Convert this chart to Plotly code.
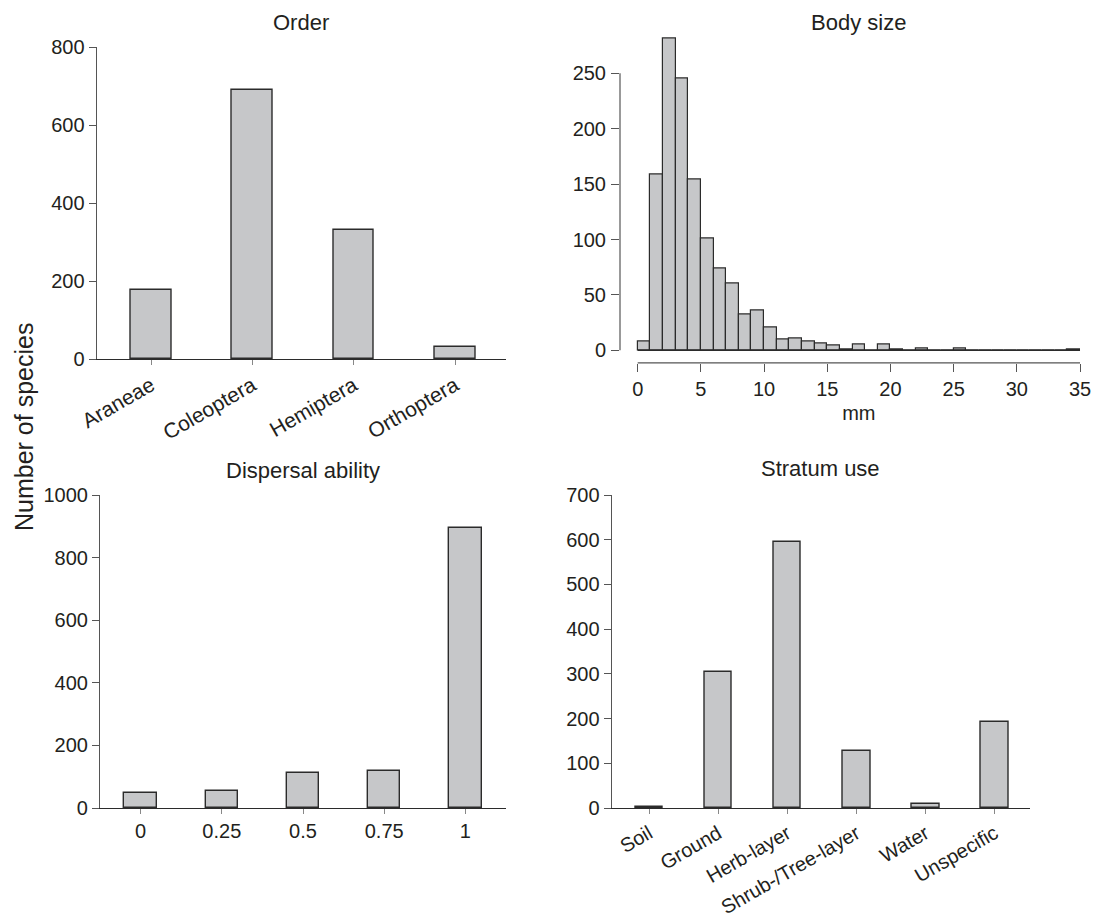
import plotly.graph_objects as go

# ---------------- data ----------------
order_cats = ["Araneae", "Coleoptera", "Hemiptera", "Orthoptera"]
order_vals = [177, 690, 331, 32]

body_bin_edges = list(range(0, 36))  # 1 mm bins, 0..35
body_counts = [8, 159, 281, 245, 154, 101, 74, 60, 32, 36,
               21, 10, 11, 8, 6, 4, 1, 5, 0, 5,
               1, 0, 2, 0, 0, 2, 0, 0, 0, 0,
               0, 0, 0, 0, 1]

disp_cats = ["0", "0.25", "0.5", "0.75", "1"]
disp_vals = [47, 55, 113, 119, 896]

strat_cats = ["Soil", "Ground", "Herb-layer", "Shrub-/Tree-layer", "Water", "Unspecific"]
strat_vals = [3, 305, 596, 127, 8, 192]

order_ticks = [0, 200, 400, 600, 800]
body_yticks = [0, 50, 100, 150, 200, 250]
body_xticks = [0, 5, 10, 15, 20, 25, 30, 35]
disp_ticks = [0, 200, 400, 600, 800, 1000]
strat_ticks = [0, 100, 200, 300, 400, 500, 600, 700]

# ---------------- style ----------------
PAGE_W, PAGE_H = 1107, 919
OFF = 8  # default page body margin
W, H = PAGE_W - OFF, PAGE_H - OFF
FONT = "Liberation Sans, Arial, Helvetica, sans-serif"
TXT = "#231f20"
AX = "#555555"
FILL = "#c6c7c9"
EDGE = "#2b2b2b"
FS = 20
FS_ROT = 21
FS_ROT2 = 20
FS_TITLE = 22
FS_YLAB = 25


def px_x(a, b):
    return [(a - OFF) / W, (b - OFF) / W]


def px_y(top, bottom):
    return [1 - (bottom - OFF) / H, 1 - (top - OFF) / H]


fig = go.Figure()

bar_style = dict(marker=dict(color=FILL, line=dict(color=EDGE, width=1.4)),
                 width=0.4, showlegend=False, hoverinfo="x+y")

fig.add_trace(go.Bar(x=order_cats, y=order_vals, xaxis="x", yaxis="y", **bar_style))
fig.add_trace(go.Bar(x=body_bin_edges[:-1], y=body_counts, width=1, offset=0,
                     marker=dict(color=FILL, line=dict(color=EDGE, width=1.2)),
                     xaxis="x2", yaxis="y2", showlegend=False))
fig.add_trace(go.Bar(x=disp_cats, y=disp_vals, xaxis="x3", yaxis="y3", **bar_style))
fig.add_trace(go.Bar(x=strat_cats, y=strat_vals, xaxis="x4", yaxis="y4", **bar_style))

tickfont = dict(family=FONT, size=FS, color=TXT)
rotfont = dict(family=FONT, size=FS_ROT, color=TXT)
rotfont2 = dict(family=FONT, size=FS_ROT2, color=TXT)

common_y = dict(showgrid=False, zeroline=False, showline=True, linecolor=AX, linewidth=1.2,
                ticks="outside", ticklen=7, tickcolor=AX, tickwidth=1.2, tickfont=tickfont,
                ticklabelstandoff=0, automargin=False)
common_xcat = dict(type="category", showgrid=False, zeroline=False, showline=True,
                   linecolor=EDGE, linewidth=1.4, ticks="outside", ticklen=5, tickcolor="#888888",
                   tickwidth=1.2, automargin=False)

fig.update_layout(
    width=W, height=H,
    margin=dict(l=0, r=0, t=0, b=0),
    paper_bgcolor="white", plot_bgcolor="white",
    font=dict(family=FONT, size=FS, color=TXT),
    bargap=0,
    xaxis=dict(domain=px_x(96.7, 506), range=[-0.536, 3.503], anchor="y",
               tickangle=-30, tickfont=rotfont, **common_xcat),
    yaxis=dict(domain=px_y(47, 359), range=[0, 800], tickvals=order_ticks, anchor="x", **common_y),
    xaxis2=dict(domain=px_x(620, 1097.7), range=[-1.4, 36.4], anchor="y2", showgrid=False,
                zeroline=False, showline=False, tickvals=body_xticks, ticks="outside", ticklen=8,
                tickcolor=AX, tickwidth=1.2, tickfont=tickfont, ticklabelstandoff=0,
                automargin=False,
                title=dict(text="mm", font=dict(family=FONT, size=FS, color=TXT), standoff=7)),
    yaxis2=dict(domain=px_y(26.5, 362.8), range=[-11.24, 292.24], anchor="x2", showgrid=False,
                zeroline=False, showline=False, tickvals=body_yticks, ticks="outside", ticklen=8,
                tickcolor=AX, tickwidth=1.2, tickfont=tickfont, ticklabelstandoff=1,
                automargin=False),
    xaxis3=dict(domain=px_x(100, 506), range=[-0.5, 4.5], anchor="y3", ticklabelstandoff=0,
                tickfont=tickfont, **common_xcat),
    yaxis3=dict(domain=px_y(495, 808), range=[0, 1000], tickvals=disp_ticks, anchor="x3", **common_y),
    xaxis4=dict(domain=px_x(611.7, 1030), range=[-0.54, 5.51], anchor="y4", tickangle=-30,
                tickfont=rotfont2, **common_xcat),
    yaxis4=dict(domain=px_y(495, 808), range=[0, 700], tickvals=strat_ticks, anchor="x4", **common_y),
)

# histogram axis lines (R style: span only the tick range)
fig.add_shape(type="line", xref="x2", yref="y2 domain", x0=body_xticks[0], x1=body_xticks[-1],
              y0=0, y1=0, line=dict(color=AX, width=1.2))
fig.add_shape(type="line", xref="x2 domain", yref="y2", x0=0, x1=0, y0=body_yticks[0],
              y1=body_yticks[-1], line=dict(color=AX, width=1.2))
# baseline of the histogram (zero-count bins drawn as flat line)
fig.add_shape(type="line", xref="x2", yref="y2", x0=body_bin_edges[0], x1=body_bin_edges[-1],
              y0=0, y1=0, line=dict(color=EDGE, width=1.2))

titles = [("Order", "x", 22), ("Body size", "x2", 22), ("Dispersal ability", "x3", 470),
          ("Stratum use", "x4", 468)]
for text, xr, ypx in titles:
    fig.add_annotation(text=text, xref=f"{xr} domain", x=0.5, yref="paper",
                       y=1 - (ypx - OFF) / H,
                       showarrow=False, xanchor="center", yanchor="middle",
                       font=dict(family=FONT, size=FS_TITLE, color=TXT))

fig.add_annotation(text="Number of species", textangle=-90, xref="paper", yref="paper",
                   x=(24 - OFF) / W, y=1 - (427 - OFF) / H, showarrow=False,
                   xanchor="center", yanchor="middle",
                   font=dict(family=FONT, size=FS_YLAB, color=TXT))

fig.write_html("out.html")
